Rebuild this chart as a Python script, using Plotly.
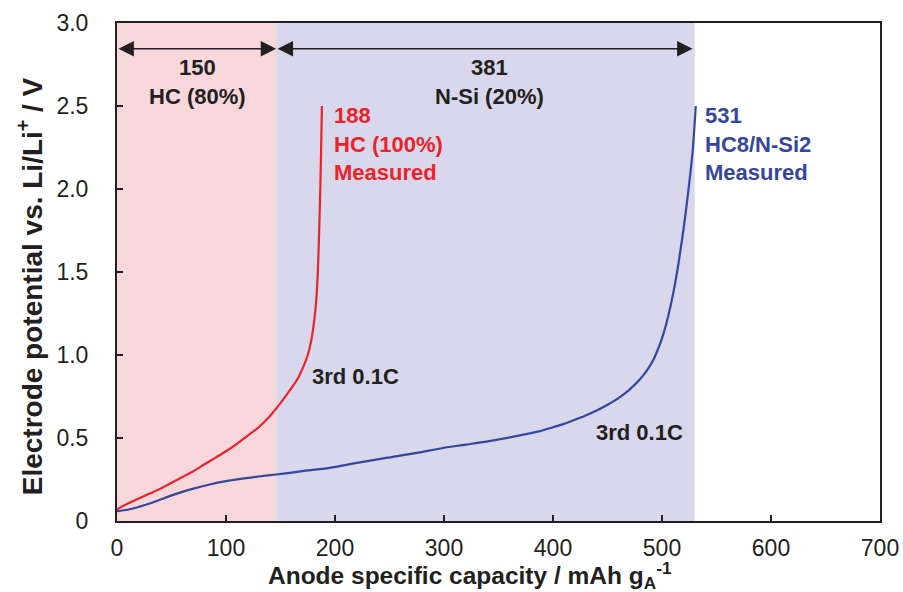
import plotly.graph_objects as go

# ---- data ----
hc_x = [0, 10, 20, 30, 40, 50, 60, 70, 80, 90, 100, 110, 120, 130, 140, 150, 160, 166, 171, 175, 178, 180, 182, 183.5, 184.5, 185.5, 186.5, 187.3, 188]
hc_y = [0.07, 0.105, 0.135, 0.165, 0.195, 0.23, 0.265, 0.30, 0.34, 0.38, 0.42, 0.465, 0.515, 0.565, 0.63, 0.71, 0.80, 0.86, 0.93, 1.00, 1.08, 1.16, 1.27, 1.40, 1.55, 1.75, 2.00, 2.25, 2.50]

mix_x = [0, 10, 20, 30, 40, 55, 70, 85, 100, 115, 130, 146, 170, 195, 220, 247, 275, 299, 320, 340, 365, 387, 400, 410, 420, 430, 440, 450, 460, 470, 480, 487, 492, 496, 500, 504, 508, 512, 516, 520, 524, 528, 531]
mix_y = [0.06, 0.068, 0.085, 0.105, 0.13, 0.165, 0.195, 0.22, 0.24, 0.255, 0.268, 0.28, 0.30, 0.32, 0.35, 0.38, 0.41, 0.44, 0.46, 0.48, 0.51, 0.54, 0.565, 0.585, 0.61, 0.635, 0.665, 0.70, 0.74, 0.79, 0.855, 0.915, 0.97, 1.03, 1.10, 1.19, 1.30, 1.43, 1.59, 1.77, 1.98, 2.22, 2.50]

region_hc = [0, 146]
region_nsi = [146, 530]
arrow_nsi_end = 528
arrow_y = 2.845

x_ticks = [0, 100, 200, 300, 400, 500, 600, 700]
x_tick_labels = ["0", "100", "200", "300", "400", "500", "600", "700"]
y_ticks = [0, 0.5, 1.0, 1.5, 2.0, 2.5, 3.0]
y_tick_labels = ["0", "0.5", "1.0", "1.5", "2.0", "2.5", "3.0"]

RED = "#e8232a"
BLUE = "#34479c"
INK = "#231f20"
FONT = "Liberation Sans, Arial, sans-serif"

fig = go.Figure()
fig.add_trace(go.Scatter(x=hc_x, y=hc_y, mode="lines", line=dict(color=RED, width=2.2, shape="spline", smoothing=0.8), showlegend=False))
fig.add_trace(go.Scatter(x=mix_x, y=mix_y, mode="lines", line=dict(color=BLUE, width=2.2, shape="spline", smoothing=0.8), showlegend=False))

fig.add_shape(type="rect", xref="x", yref="paper", x0=region_hc[0], x1=region_hc[1], y0=0, y1=1,
              fillcolor="#f8d7da", line=dict(width=0), layer="below")
fig.add_shape(type="rect", xref="x", yref="paper", x0=region_nsi[0], x1=region_nsi[1], y0=0, y1=1,
              fillcolor="#d8d7eb", line=dict(width=0), layer="below")

# double arrows
for a, b in [(region_hc[0], region_hc[1]), (region_nsi[0], arrow_nsi_end)]:
    fig.add_annotation(x=b, y=arrow_y, ax=a, ay=arrow_y, xref="x", yref="y", axref="x", ayref="y",
                       text="", showarrow=True, arrowhead=2, startarrowhead=2, arrowside="end+start",
                       arrowsize=2.2, startarrowsize=2.2, arrowwidth=1.4, arrowcolor=INK,
                       standoff=0, startstandoff=0)

bold = dict(family=FONT, size=22, color=INK)
fig.add_annotation(x=74, y=2.645, xref="x", yref="y", text="<b>150<br>HC (80%)</b>", showarrow=False, font=bold, align="center")
fig.add_annotation(x=341.5, y=2.645, xref="x", yref="y", text="<b>381<br>N-Si (20%)</b>", showarrow=False, font=bold, align="center")
fig.add_annotation(x=197.5, y=2.273, xref="x", yref="y", xanchor="left", text="<b>188<br>HC (100%)<br>Measured</b>",
                   showarrow=False, font=dict(family=FONT, size=22, color=RED), align="left")
fig.add_annotation(x=538, y=2.273, xref="x", yref="y", xanchor="left", text="<b>531<br>HC8/N-Si2<br>Measured</b>",
                   showarrow=False, font=dict(family=FONT, size=22, color=BLUE), align="left")
fig.add_annotation(x=219, y=0.873, xref="x", yref="y", text="<b>3rd 0.1C</b>", showarrow=False, font=bold)
fig.add_annotation(x=479.5, y=0.534, xref="x", yref="y", text="<b>3rd 0.1C</b>", showarrow=False, font=bold)

# axis titles
fig.add_annotation(x=0.463, y=-0.110, xref="paper", yref="paper", xanchor="center", yanchor="middle",
                   text="<b>Anode specific capacity / mAh g<sub>A</sub><sup>-1</sup></b>", showarrow=False,
                   font=dict(family=FONT, size=24.5, color=INK))
fig.add_annotation(x=-0.1136, y=0.472, xref="paper", yref="paper", xanchor="center", yanchor="middle", textangle=-90,
                   text="<b>Electrode potential vs. Li/Li<sup>+</sup> / V</b>", showarrow=False,
                   font=dict(family=FONT, size=28, color=INK))

axis_common = dict(showline=True, mirror=True, linecolor=INK, linewidth=2, ticks="inside", ticklen=6,
                   tickwidth=1.5, tickcolor=INK, showgrid=False, zeroline=False,
                   tickfont=dict(family=FONT, size=23, color=INK))
fig.update_xaxes(range=[0, 700], tickvals=x_ticks, ticktext=x_tick_labels, ticklabelstandoff=5, **axis_common)
fig.update_yaxes(range=[0, 3.0], tickvals=y_ticks, ticktext=y_tick_labels, ticklabelstandoff=22, **axis_common)

fig.update_layout(width=903, height=592, margin=dict(l=117, r=23, t=23, b=71, autoexpand=False),
                  plot_bgcolor="white", paper_bgcolor="white", font=dict(family=FONT, color=INK))

fig.write_html("out.html", config={"displayModeBar": False}, post_script="document.body.style.margin='0';")
